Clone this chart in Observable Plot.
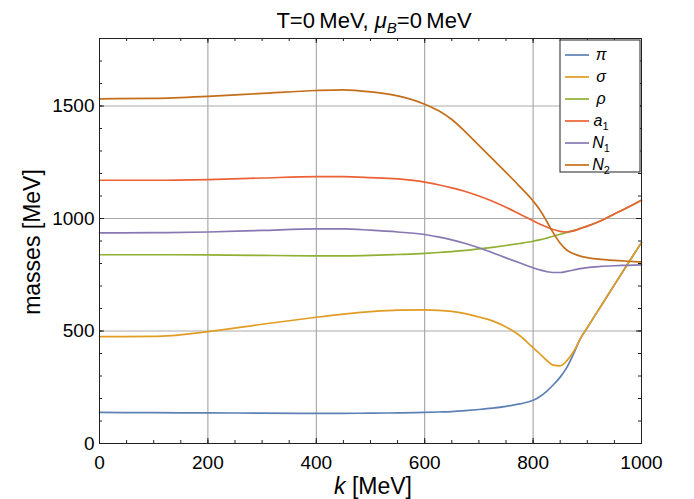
<!DOCTYPE html>
<html>
<head>
<meta charset="utf-8">
<script src="https://cdn.jsdelivr.net/npm/d3@7"></script>
<script src="https://cdn.jsdelivr.net/npm/@observablehq/plot@0.6"></script>
<style>
  html, body { margin: 0; padding: 0; background: #fff; }
  #chart { width: 694px; height: 499px; }
</style>
</head>
<body>
<div id="chart"></div>
<script>
// ---- data ----
const k    = [0,100,200,300,400,450,500,550,600,625,650,675,700,725,750,775,800,812,825,837,850,862,875,887,900,925,950,975,1000];
const piM  = [138,137,136,135,134,134,135,136,138,140,142,146,151,157,165,176,192,208,232,260,295,337,400,465,515,610,705,800,893];
const sigM = [475,476,497,530,561,575,586,593,594,592,587,577,562,545,518,480,426,400,370,348,345,367,410,465,515,610,705,800,893];
const rhoM = [839,839,838,836,834,834,836,840,845,849,853,858,865,872,880,889,899,905,913,921,930,938,947,956,966,990,1020,1050,1082];
const a1M  = [1170,1170,1173,1180,1186,1186,1182,1176,1162,1150,1136,1120,1100,1077,1050,1020,990,976,962,951,943,940,945,955,966,990,1020,1050,1082];
const n1M  = [936,937,940,947,954,954,948,940,929,918,905,889,870,848,825,803,781,772,764,760,760,765,771,777,782,787,790,792,794];
const n2M  = [1532,1534,1543,1556,1569,1572,1563,1545,1508,1480,1440,1385,1325,1265,1205,1143,1078,1040,988,937,890,860,843,833,826,818,814,810,807];

const seriesNames = ["π","σ","ρ","a1","N1","N2"];
const seriesVals = [piM, sigM, rhoM, a1M, n1M, n2M];
const seriesColors = ["#5E81B5","#E19C24","#8FB032","#EB6235","#8778B3","#C56E1A"];

const xMajor = [0,200,400,600,800,1000];
const xMinor = d3.range(0, 1001, 50);
const yMajor = [0,500,1000,1500];
const yMinor = d3.range(0, 1801, 100);
const xGrid = [200,400,600,800];
const yGrid = [500,1000,1500];

const data = seriesNames.flatMap((s, i) => k.map((kv, j) => ({k: kv, m: seriesVals[i][j], s})));

// ---- layout ----
const W = 694, H = 499;
const mL = 99, mR = 53, mT = 38, mB = 56;
const fw = W - mL - mR, fh = H - mT - mB;

const plot = Plot.plot({
  width: W, height: H,
  marginLeft: mL, marginRight: mR, marginTop: mT, marginBottom: mB,
  style: {fontFamily: "'Liberation Sans', Arial, sans-serif", fontSize: "19px", background: "white", color: "black"},
  x: {domain: [0, 1000]},
  y: {domain: [0, 1800]},
  color: {domain: seriesNames, range: seriesColors},
  marks: [
    Plot.ruleX(xGrid, {stroke: "#999", strokeWidth: 1}),
    Plot.ruleY(yGrid, {stroke: "#aaa", strokeWidth: 1}),
    Plot.line(data, {x: "k", y: "m", z: "s", stroke: "s", strokeWidth: 1.7, curve: "monotone-x"}),
    // inward frame ticks
    Plot.ruleX(xMinor, {insetTop: fh - 3, stroke: "#222"}),
    Plot.ruleX(xMinor, {insetBottom: fh - 3, stroke: "#222"}),
    Plot.ruleX(xMajor, {insetTop: fh - 5, stroke: "#222"}),
    Plot.ruleX(xMajor, {insetBottom: fh - 5, stroke: "#222"}),
    Plot.ruleY(yMinor, {insetRight: fw - 3, stroke: "#222"}),
    Plot.ruleY(yMinor, {insetLeft: fw - 3, stroke: "#222"}),
    Plot.ruleY(yMajor, {insetRight: fw - 5, stroke: "#222"}),
    Plot.ruleY(yMajor, {insetLeft: fw - 5, stroke: "#222"}),
    Plot.frame({stroke: "#222", strokeWidth: 1}),
    Plot.axisX(xMajor, {tickSize: 0, tickPadding: 12, label: null, fontSize: 19, tickFormat: d3.format("d")}),
    Plot.axisY(yMajor, {tickSize: 0, tickPadding: 5, label: null, fontSize: 19, tickFormat: d3.format("d")})
  ]
});
document.getElementById("chart").appendChild(plot);

// ---- title, axis labels, legend ----
const svg = d3.select(plot);
const font = "'Liberation Sans', Arial, sans-serif";

const title = svg.append("text")
  .attr("x", 374).attr("y", 28)
  .attr("text-anchor", "middle")
  .attr("font-family", font).attr("font-size", 22).attr("fill", "black");
title.append("tspan").text("T=0\u2009MeV, ");
title.append("tspan").attr("font-style", "italic").text("μ");
title.append("tspan").attr("font-style", "italic").attr("font-size", 15).attr("dy", 5).text("B");
title.append("tspan").attr("dy", -5).text("=0\u2009MeV");

const xl = svg.append("text")
  .attr("x", 373).attr("y", 494)
  .attr("text-anchor", "middle")
  .attr("font-family", font).attr("font-size", 23).attr("fill", "black");
xl.append("tspan").attr("font-style", "italic").text("k");
xl.append("tspan").text(" [MeV]");

svg.append("text")
  .attr("transform", "translate(40,242) rotate(-90)")
  .attr("text-anchor", "middle")
  .attr("font-family", font).attr("font-size", 23).attr("fill", "black")
  .text("masses [MeV]");

const lg = svg.append("g");
lg.append("rect")
  .attr("x", 560).attr("y", 40).attr("width", 80).attr("height", 132)
  .attr("fill", "white").attr("stroke", "#222").attr("stroke-width", 1);
const legendLabels = [["π", ""], ["σ", ""], ["ρ", ""], ["a", "1"], ["N", "1"], ["N", "2"]];
legendLabels.forEach(([base, sub], i) => {
  const y = 55 + i * 22;
  lg.append("line")
    .attr("x1", 565).attr("x2", 589).attr("y1", y).attr("y2", y)
    .attr("stroke", seriesColors[i]).attr("stroke-width", 1.7);
  const t = lg.append("text")
    .attr("x", 601).attr("y", y + 5)
    .attr("font-family", font).attr("font-size", 16).attr("fill", "black");
  t.append("tspan").attr("font-style", "italic").text(base);
  if (sub) t.append("tspan").attr("font-size", 11).attr("dy", 4).text(sub);
});
</script>
</body>
</html>
